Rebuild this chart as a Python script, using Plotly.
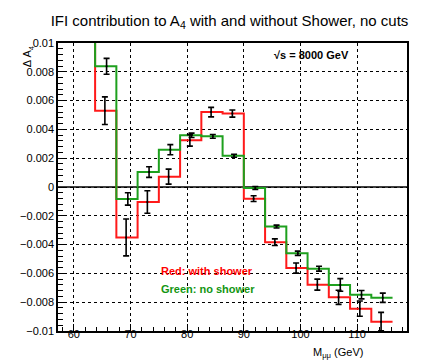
import plotly.graph_objects as go

# bin edges in M_mumu (GeV), 3.75 GeV bins
edges = [63.75, 67.5, 71.25, 75.0, 78.75, 82.5, 86.25, 90.0, 93.75,
         97.5, 101.25, 105.0, 108.75, 112.5, 116.25]
centers = [(a + b) / 2 for a, b in zip(edges[:-1], edges[1:])]

red_vals = [0.0053, -0.0035, -0.00104, 0.00072, 0.00324, 0.0052, 0.0051,
            -0.00081, -0.00383, -0.00563, -0.00678, -0.00766, -0.00845, -0.00935]
red_errs = [0.00096, 0.00128, 0.00078, 0.00052, 0.0004, 0.00033, 0.00025,
            0.0002, 0.00023, 0.00035, 0.00038, 0.00049, 0.00053, 0.00064]

green_vals = [0.00838, -0.00083, 0.00104, 0.00259, 0.00359, 0.00352, 0.00217,
              -0.00007, -0.00275, -0.0046, -0.00567, -0.0068, -0.00748, -0.00769]
green_errs = [0.00055, 0.00043, 0.00037, 0.00035, 0.00015, 0.00013, 0.0001,
              0.0001, 0.0001, 0.00015, 0.00017, 0.00044, 0.00029, 0.00032]

y_ticks = [-0.01, -0.008, -0.006, -0.004, -0.002, 0, 0.002, 0.004, 0.006, 0.008, 0.01]
y_labels = ["\u22120.01", "\u22120.008", "\u22120.006", "\u22120.004", "\u22120.002", "0",
            "0.002", "0.004", "0.006", "0.008", "0.01"]

YMIN, YMAX = -0.01, 0.01
RED = "#ff1a1a"
GREEN = "#1ea01e"


def step(vals):
    # histogram outline, first edge comes down from above the frame
    xs = [edges[0]] + edges[:-1] + [edges[-1]]
    ys = [YMAX * 1.5] + vals + [vals[-1]]
    return xs, ys


fig = go.Figure()
for vals, col in [(red_vals, RED), (green_vals, GREEN)]:
    xs, ys = step(vals)
    fig.add_trace(go.Scatter(x=xs, y=ys, mode="lines", line_shape="hv",
                             line=dict(color=col, width=2), hoverinfo="skip"))
for vals, errs, off in [(red_vals, red_errs, -0.15), (green_vals, green_errs, 0.15)]:
    fig.add_trace(go.Scatter(x=[c + off for c in centers], y=vals, mode="markers",
                             marker=dict(size=2, color="black"),
                             error_y=dict(type="data", array=errs, color="black",
                                          thickness=1.6, width=3)))

fig.add_hline(y=0, line=dict(color="black", width=1.5), layer="below")

axis_common = dict(showline=True, linecolor="black", linewidth=1.5, mirror=True,
                   ticks="inside", tickcolor="black", showgrid=True, gridcolor="black",
                   griddash="dot", gridwidth=1, zeroline=False,
                   tickfont=dict(family="Liberation Sans, Arial", size=11, color="black"))

fig.update_layout(
    width=443, height=360,
    margin=dict(l=44, r=44, t=35, b=37),
    paper_bgcolor="white", plot_bgcolor="white",
    showlegend=False,
    title=dict(text="IFI contribution to A<sub>4</sub> with and without Shower, no cuts",
               x=0.5, xanchor="center", y=0.965, yanchor="middle",
               font=dict(family="Liberation Sans, Arial", size=15, color="black")),
    xaxis=dict(range=[57.2, 118.8], tickvals=[60, 70, 80, 90, 100, 110], ticklen=7,
               ticklabelstandoff=-8,
               minor=dict(dtick=2, tick0=0, ticks="inside", ticklen=4, tickcolor="black",
                          showgrid=False),
               **axis_common),
    yaxis=dict(range=[YMIN, YMAX], tickvals=y_ticks, ticktext=y_labels, ticklen=9,
               minor=dict(dtick=0.0004, tick0=0, ticks="inside", ticklen=5,
                          tickcolor="black", showgrid=False),
               **axis_common),
)

txt = dict(family="Liberation Sans, Arial", size=11)
fig.add_annotation(text="<b>\u221As = 8000 GeV</b>", xref="paper", yref="paper",
                   x=0.614, y=0.96, xanchor="left", yanchor="middle", showarrow=False,
                   font=dict(txt, size=11, color="black"))
fig.add_annotation(text="<b>Red: with shower</b>", xref="paper", yref="paper",
                   x=0.29, y=0.21, xanchor="left", yanchor="middle", showarrow=False,
                   font=dict(txt, color="red"))
fig.add_annotation(text="<b>Green: no shower</b>", xref="paper", yref="paper",
                   x=0.29, y=0.147, xanchor="left", yanchor="middle", showarrow=False,
                   font=dict(txt, color="#129612"))
fig.add_annotation(text="\u0394 A<sub>4</sub>", xref="paper", yref="paper",
                   x=-0.085, y=1.0, xanchor="center", yanchor="top", textangle=-90,
                   showarrow=False, font=dict(txt, size=11, color="black"))
fig.add_annotation(text="M<sub>\u03bc\u03bc</sub> (GeV)", xref="paper", yref="paper",
                   x=0.88, y=-0.075, xanchor="right", yanchor="middle", showarrow=False,
                   font=dict(txt, size=11, color="black"))

fig.write_html("out.html")
